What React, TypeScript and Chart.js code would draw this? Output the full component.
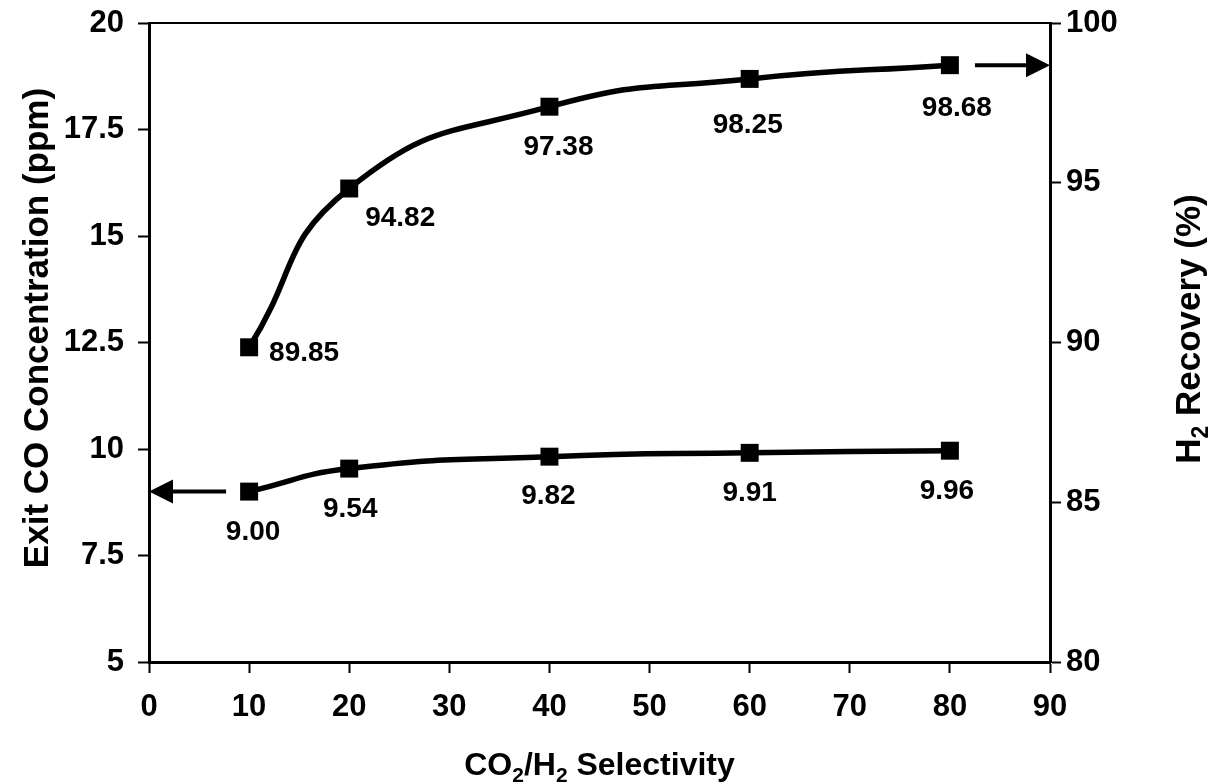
import React, { useEffect, useRef } from 'react';
import { Chart, registerables } from 'chart.js';

Chart.register(...registerables);

const FONT = '"Liberation Sans", Arial, Helvetica, sans-serif';

// ---- data ----
const selectivity = [10, 20, 40, 60, 80];
const coConcentration = [9.0, 9.54, 9.82, 9.91, 9.96];
const h2Recovery = [89.85, 94.82, 97.38, 98.25, 98.68];
const coLabels = ['9.00', '9.54', '9.82', '9.91', '9.96'];
const h2Labels = ['89.85', '94.82', '97.38', '98.25', '98.68'];
const xTicks = [0, 10, 20, 30, 40, 50, 60, 70, 80, 90];
const leftTicks = [5, 7.5, 10, 12.5, 15, 17.5, 20];
const rightTicks = [80, 85, 90, 95, 100];
// arrows (data units): [fromX, toX]
const coArrowX = [7.7, 0];
const h2ArrowX = [82.5, 90];

// label offsets (px) relative to point
const coLabelOffsets = [[4, 41], [1, 41], [-1, 40], [0, 40], [-3, 41]];
const h2LabelOffsets = [[55, 6], [51, 30], [9, 41], [-2, 46], [7, 43]];

// target plot-area top edge (px)
const PLOT_TOP = 23;

type Part = { t: string; sub?: boolean };

function drawRich(ctx: CanvasRenderingContext2D, parts: Part[], cx: number, cy: number, rot: number, size: number) {
  const main = `bold ${size}px ${FONT}`;
  const sub = `bold ${Math.round(size * 0.66)}px ${FONT}`;
  ctx.save();
  ctx.translate(cx, cy);
  ctx.rotate(rot);
  ctx.fillStyle = '#000';
  ctx.textAlign = 'left';
  ctx.textBaseline = 'alphabetic';
  let total = 0;
  const widths = parts.map((p) => {
    ctx.font = p.sub ? sub : main;
    const w = ctx.measureText(p.t).width;
    total += w;
    return w;
  });
  let x = -total / 2;
  parts.forEach((p, i) => {
    ctx.font = p.sub ? sub : main;
    ctx.fillText(p.t, x, p.sub ? Math.round(size * 0.22) : 0);
    x += widths[i];
  });
  ctx.restore();
}

function arrow(ctx: CanvasRenderingContext2D, x1: number, x2: number, y: number) {
  const dir = Math.sign(x2 - x1);
  const headLen = 24;
  const headHalf = 12;
  ctx.save();
  ctx.strokeStyle = '#000';
  ctx.fillStyle = '#000';
  ctx.lineWidth = 4;
  ctx.beginPath();
  ctx.moveTo(x1, y);
  ctx.lineTo(x2 - dir * headLen + dir * 2, y);
  ctx.stroke();
  ctx.beginPath();
  ctx.moveTo(x2, y);
  ctx.lineTo(x2 - dir * headLen, y - headHalf);
  ctx.lineTo(x2 - dir * headLen, y + headHalf);
  ctx.closePath();
  ctx.fill();
  ctx.restore();
}

const decorPlugin = {
  id: 'decor',
  afterDatasetsDraw(chart: any) {
    const ctx: CanvasRenderingContext2D = chart.ctx;
    const area = chart.chartArea;
    const xs = chart.scales.x;
    const yl = chart.scales.y;
    const yr = chart.scales.y2;
    // top border
    ctx.save();
    ctx.strokeStyle = '#000';
    ctx.lineWidth = 2;
    ctx.beginPath();
    ctx.moveTo(area.left, area.top);
    ctx.lineTo(area.right, area.top);
    ctx.stroke();
    ctx.restore();

    // arrows
    arrow(ctx, xs.getPixelForValue(coArrowX[0]), xs.getPixelForValue(coArrowX[1]), yl.getPixelForValue(coConcentration[0]));
    arrow(ctx, xs.getPixelForValue(h2ArrowX[0]), xs.getPixelForValue(h2ArrowX[1]), yr.getPixelForValue(h2Recovery[h2Recovery.length - 1]));

    // data labels
    ctx.save();
    ctx.fillStyle = '#000';
    ctx.font = `bold 28px ${FONT}`;
    ctx.textAlign = 'center';
    ctx.textBaseline = 'middle';
    const m0 = chart.getDatasetMeta(0).data;
    m0.forEach((p: any, i: number) => {
      ctx.fillText(coLabels[i], p.x + coLabelOffsets[i][0], p.y + coLabelOffsets[i][1]);
    });
    const m1 = chart.getDatasetMeta(1).data;
    m1.forEach((p: any, i: number) => {
      ctx.fillText(h2Labels[i], p.x + h2LabelOffsets[i][0], p.y + h2LabelOffsets[i][1]);
    });
    ctx.restore();

    // axis titles
    const cxMid = (area.left + area.right) / 2;
    drawRich(ctx, [{ t: 'CO' }, { t: '2', sub: true }, { t: '/H' }, { t: '2', sub: true }, { t: ' Selectivity' }], cxMid, 775, 0, 32);
    drawRich(ctx, [{ t: 'Exit CO Concentration (ppm)' }], 48, 328, -Math.PI / 2, 35);
    drawRich(ctx, [{ t: 'H' }, { t: '2', sub: true }, { t: ' Recovery (%)' }], 1200, 329, -Math.PI / 2, 35);
  },
};

const tickFont = { family: FONT, size: 31, weight: 'bold' as const };
const gridCfg = {
  drawOnChartArea: false,
  drawTicks: true,
  tickLength: 11,
  tickWidth: 2,
  tickColor: '#000',
  color: '#000',
};
const borderCfg = { display: true, color: '#000', width: 3 };

const lineStyle = {
  borderColor: '#000',
  backgroundColor: '#000',
  borderWidth: 5.5,
  tension: 0.5,
  pointStyle: 'rect',
  pointRadius: 12.7,
  pointBorderWidth: 0,
  pointBackgroundColor: '#000',
};

export default function App() {
  const ref = useRef<HTMLCanvasElement>(null);
  useEffect(() => {
    const canvas = ref.current!;
    const chart = new Chart(canvas, {
      type: 'line',
      data: {
        datasets: [
          {
            label: 'Exit CO Concentration',
            data: selectivity.map((x, i) => ({ x, y: coConcentration[i] })),
            yAxisID: 'y',
            ...lineStyle,
          },
          {
            label: 'H2 Recovery',
            data: selectivity.map((x, i) => ({ x, y: h2Recovery[i] })),
            yAxisID: 'y2',
            ...lineStyle,
          },
        ],
      },
      options: {
        responsive: false,
        animation: false,
        devicePixelRatio: 1,
        layout: { padding: { top: 0, left: 0, right: 0, bottom: 0 } },
        plugins: { legend: { display: false }, tooltip: { enabled: false } },
        scales: {
          x: {
            type: 'linear',
            position: 'bottom',
            min: 0,
            max: 90,
            afterBuildTicks: (s: any) => {
              s.ticks = xTicks.map((v) => ({ value: v }));
            },
            afterFit: (s: any) => {
              s.height = 120;
            },
            ticks: { font: tickFont, color: '#000', padding: 16, maxRotation: 0, autoSkip: false, callback: (v: any) => String(v) },
            grid: gridCfg,
            border: borderCfg,
          },
          y: {
            type: 'linear',
            position: 'left',
            min: 5,
            max: 20,
            afterBuildTicks: (s: any) => {
              s.ticks = leftTicks.map((v) => ({ value: v }));
            },
            afterFit: (s: any) => {
              s.width = 149;
              s.paddingTop = PLOT_TOP;
            },
            ticks: { font: tickFont, color: '#000', padding: 14, autoSkip: false, callback: (v: any) => String(v) },
            grid: gridCfg,
            border: borderCfg,
          },
          y2: {
            type: 'linear',
            position: 'right',
            min: 80,
            max: 100,
            afterBuildTicks: (s: any) => {
              s.ticks = rightTicks.map((v) => ({ value: v }));
            },
            afterFit: (s: any) => {
              s.width = 161;
              s.paddingTop = PLOT_TOP;
            },
            ticks: { font: tickFont, color: '#000', padding: 5, autoSkip: false, callback: (v: any) => String(v) },
            grid: gridCfg,
            border: borderCfg,
          },
        },
      },
      plugins: [decorPlugin],
    } as any);
    return () => chart.destroy();
  }, []);
  return (
    <div style={{ position: 'fixed', left: 0, top: 0, width: 1211, height: 782, background: '#fff' }}>
      <canvas ref={ref} width={1211} height={782} style={{ display: 'block', width: 1211, height: 782 }} />
    </div>
  );
}
